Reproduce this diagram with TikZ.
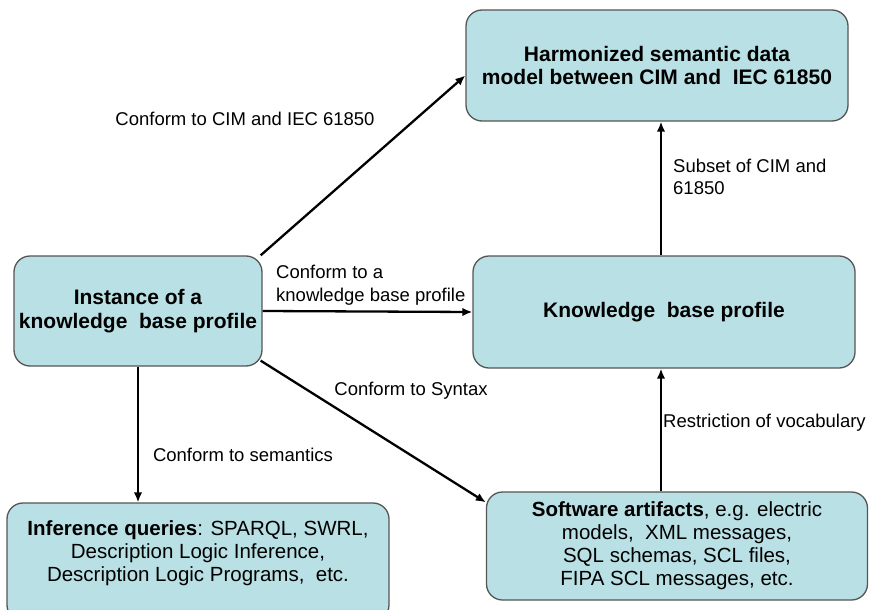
\documentclass[tikz,border=0pt]{standalone}
\usepackage{fontspec}
\setmainfont{Liberation Sans}
\usetikzlibrary{arrows.meta}
\definecolor{boxfill}{RGB}{185,224,228}
\definecolor{boxline}{RGB}{85,85,85}
\tikzset{
  box/.style={draw=boxline, line width=1.3pt, fill=boxfill, rounded corners=16pt, align=center, inner sep=0pt},
  boxtitle/.style={box, font=\fontsize{21}{23.5}\selectfont\bfseries},
  boxlist/.style={box, font=\fontsize{20.5}{23}\selectfont},
  lbl/.style={font=\fontsize{18.5}{22.5}\selectfont, align=left, inner sep=0pt},
  arr/.style={line width=2.3pt, -{Latex[length=10pt,width=8.5pt]}}
}
\begin{document}
\begin{tikzpicture}[x=1pt,y=-1pt]
        \useasboundingbox (0,0) rectangle (870,610);
        \node[boxtitle, minimum width=382pt, minimum height=111pt] (harm) at (657,65.5) {Harmonized semantic data\\model between CIM and\ \ IEC 61850};
        \node[boxtitle, minimum width=248pt, minimum height=110pt] (inst) at (138,311) {Instance of a\\knowledge\ \ base profile};
        \node[boxtitle, minimum width=382pt, minimum height=112pt] (kbp) at (664,312) {Knowledge\ \ base profile};
        \node[boxlist, minimum width=382pt, minimum height=118pt] (inf) at (198,562) {\textbf{Inference queries}: SPARQL, SWRL,\\Description Logic Inference,\\Description Logic Programs,\ \ etc.\\[-2pt]\mbox{}};
        \node[boxlist, minimum width=381pt, minimum height=108pt] (soft) at (677,546) {\textbf{Software artifacts}, e.g. electric\\models,\ \ XML messages,\\SQL schemas, SCL files,\\FIPA SCL messages, etc.};
        \node[lbl] (lcim) at (245,119) {Conform to CIM and IEC 61850};
        \node[lbl, anchor=west] (lkbp) at (276,285) {Conform to a\\knowledge base profile};
        \node[lbl] (lsyn) at (411,391) {Conform to Syntax};
        \node[lbl] (lsem) at (243,455) {Conform to semantics};
        \node[lbl, anchor=west] (lres) at (663,423) {Restriction of vocabulary};
        \node[lbl, anchor=west] (lsub) at (673,177) {Subset of CIM and\\61850};
        \draw[arr] ([xshift=-2pt]inst.north east) -- ([yshift=-10pt]harm.west);
        \draw[arr] (inst.east) -- (kbp.west);
        \draw[arr] (inst.south) -- (inst.south |- inf.north);
        \draw[arr] ([xshift=-2pt,yshift=6pt]inst.south east) -- ([yshift=-11pt]soft.north west);
        \draw[arr] ([xshift=-3pt]kbp.south |- soft.north) -- ([xshift=-3pt]kbp.south);
        \draw[arr] ([xshift=-3pt]kbp.north) -- ([xshift=-3pt]kbp.north |- harm.south);
    \end{tikzpicture}
\end{document}
